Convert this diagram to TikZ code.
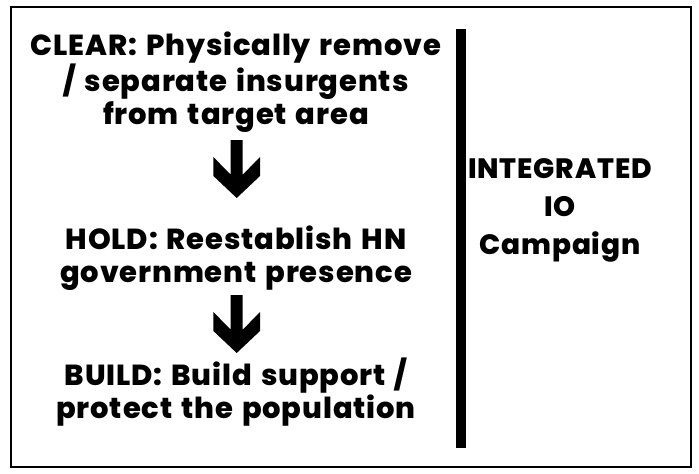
\documentclass[tikz,border=0pt]{standalone}
\usepackage{fontspec}
\setmainfont{Poppins}[BoldFont={Poppins ExtraBold},LetterSpace=3,WordSpace=1.4]
\begin{document}
\begin{tikzpicture}[x=1pt,y=-1pt,
    phase/.style={align=center,inner sep=0pt,font=\fontsize{29}{32.5}\selectfont\bfseries}]
  \useasboundingbox (0,0) rectangle (699,474);
  \draw[line width=2pt] (11,7) rectangle (691,467);

  \node[phase] (clear) at (236,82) {CLEAR: Physically remove\\/ separate insurgents\\from target area};
  \node[phase] (hold) at (236,258) {HOLD: Reestablish HN\\government presence};
  \node[phase] (build) at (236,392) {BUILD: Build support /\\protect the population};
  \node[phase,font=\fontsize{28}{38}\selectfont\bfseries] (io) at (560,210) {INTEGRATED\\IO\\Campaign};

  \coordinate (bartop) at (461,29);
  \coordinate (barbot) at (461,448);
  \draw[line width=10pt] (bartop) -- (barbot);

  \foreach \id / \y in {arr1/140, arr2/295} {
    \coordinate (\id) at (236.7,\y);
    \fill[shift={(\id)}] (-6,0) -- (6,0) -- (6,34.7) -- (23.3,17) -- (23.3,36)
      -- (0,58) -- (-23.3,36) -- (-23.3,17) -- (-6,34.7) -- cycle;
  }
\end{tikzpicture}
\end{document}
